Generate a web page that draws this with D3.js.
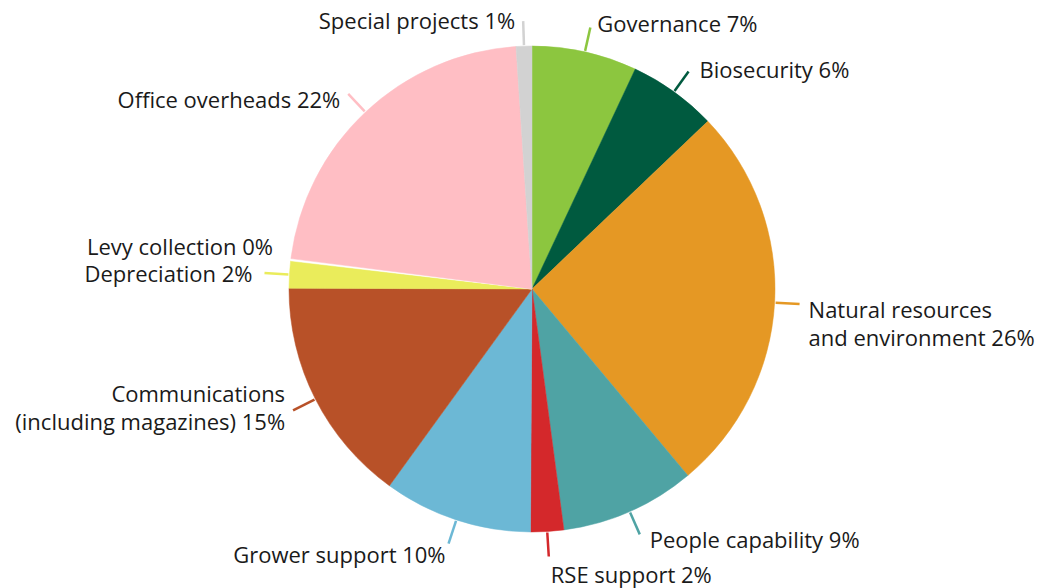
<!DOCTYPE html>
<html>
<head>
<meta charset="utf-8">
<script src="https://cdn.jsdelivr.net/npm/d3@7"></script>
<style>
  body { margin: 0; background: #fff; }
  text { font-family: "Open Sans", sans-serif; font-size: 22px; fill: #1a1a1a; }
</style>
</head>
<body>
<svg id="pie" width="1041" height="588"></svg>
<script>
// values (slice angles), labels as shown
var categories = ["Governance", "Biosecurity", "Natural resources and environment", "People capability",
  "RSE support", "Grower support", "Communications (including magazines)", "Depreciation",
  "Levy collection", "Office overheads", "Special projects"];
var values = [7.0, 5.9, 26.1, 9.0, 2.2, 9.9, 15.1, 1.8, 0.15, 22.0, 1.05];
var labelLines = [
  ["Governance 7%"],
  ["Biosecurity 6%"],
  ["Natural resources", "and environment 26%"],
  ["People capability 9%"],
  ["RSE support 2%"],
  ["Grower support 10%"],
  ["Communications", "(including magazines) 15%"],
  ["Depreciation 2%"],
  ["Levy collection 0%"],
  ["Office overheads 22%"],
  ["Special projects 1%"]
];
var colors = ["#8cc63f", "#005a3f", "#e59824", "#4fa3a4", "#d4282b", "#6cb8d5",
  "#b85128", "#eaec5b", "#ffffff", "#ffbec4", "#d2d2d2"];

var cx = 532, cy = 289, radius = 243;

// label placement tweaks (dx, dy from leader end, anchor); index aligned
var labelPos = [
  {dx: 7, dy: -4, anchor: "start"},
  {dx: 11, dy: -3, anchor: "start"},
  {dx: 9, dy: 5, anchor: "start"},
  {dx: 10, dy: 5, anchor: "start"},
  {dx: 2, dy: 18, anchor: "start"},
  {dx: -3, dy: 10, anchor: "end"},
  {dx: -8, dy: -17, anchor: "end"},
  {dx: -12, dy: 0, anchor: "end"},
  {dx: 7, dy: -11, anchor: "end", noLine: true},
  {dx: -8, dy: 5, anchor: "end"},
  {dx: -8, dy: -1, anchor: "end"}
];

var data = categories.map(function(c, i) { return {name: c, value: values[i], i: i}; });

var svg = d3.select("#pie");
var g = svg.append("g").attr("transform", "translate(" + cx + "," + cy + ")");

var pie = d3.pie().sort(null).value(function(d) { return d.value; });
var arc = d3.arc().innerRadius(0).outerRadius(radius);
var arcs = pie(data);

g.selectAll("path.slice")
  .data(arcs)
  .enter().append("path")
  .attr("class", "slice")
  .attr("d", arc)
  .attr("fill", function(d) { return colors[d.data.i]; })
  .attr("stroke", function(d) { return colors[d.data.i]; })
  .attr("stroke-width", 0.5);

function polar(a, r) { return [r * Math.sin(a), -r * Math.cos(a)]; }

arcs.forEach(function(d) {
  var i = d.data.i;
  var mid = (d.startAngle + d.endAngle) / 2;
  var p0 = polar(mid, radius + 1), p1 = polar(mid, radius + 25);
  var lp = labelPos[i];
  if (!lp.noLine) {
    g.append("line")
      .attr("x1", p0[0]).attr("y1", p0[1])
      .attr("x2", p1[0]).attr("y2", p1[1])
      .attr("stroke", colors[i])
      .attr("stroke-width", 2.5);
  }
  var lines = labelLines[i];
  lines.forEach(function(s, k) {
    g.append("text")
      .attr("x", p1[0] + lp.dx)
      .attr("y", p1[1] + lp.dy + k * 28)
      .attr("text-anchor", lp.anchor)
      .attr("dominant-baseline", "central")
      .text(s);
  });
});
</script>
</body>
</html>
